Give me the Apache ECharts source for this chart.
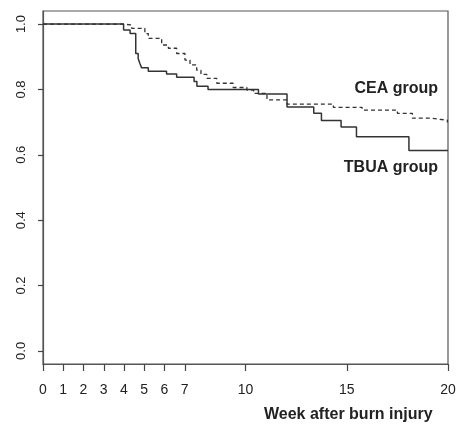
<!DOCTYPE html>
<html>
<head>
<meta charset="utf-8">
<script src="https://cdn.jsdelivr.net/npm/echarts@6/dist/echarts.min.js"></script>
<style>
  html, body { margin: 0; padding: 0; background: #fff; }
  #chart { width: 457px; height: 426px; }
</style>
</head>
<body>
<div id="chart"></div>
<script>
// Kaplan-Meier curves, [week, survival]
const tbuaGroup = [
  [0, 1], [3.98, 0.982], [4.3, 0.971], [4.58, 0.91], [4.7, 0.895], [4.78, 0.88],
  [4.87, 0.866], [5.2, 0.856], [6.1, 0.847], [6.6, 0.837], [7.46, 0.824], [7.6, 0.81],
  [8.15, 0.8], [10.64, 0.786], [12.05, 0.746], [13.37, 0.727], [13.75, 0.705],
  [14.72, 0.685], [15.48, 0.655], [18.07, 0.613], [20, 0.613]
];
const ceaGroup = [
  [0, 1], [3.96, 0.997], [4.38, 0.987], [5.03, 0.971], [5.2, 0.956], [5.86, 0.936],
  [6.19, 0.926], [6.6, 0.91], [7.01, 0.89], [7.26, 0.875], [7.59, 0.859], [7.8, 0.846],
  [8.09, 0.834], [8.58, 0.819], [9.39, 0.806], [10.07, 0.798], [10.4, 0.788],
  [11.06, 0.768], [12.05, 0.755], [14.34, 0.745], [15.76, 0.737], [17.5, 0.727],
  [18.24, 0.712], [19.14, 0.706], [19.97, 0.699], [20, 0.699]
];
const xTicks = [0, 1, 2, 3, 4, 5, 6, 7, 10, 15, 20];
const yTicks = [0, 0.2, 0.4, 0.6, 0.8, 1.0];
const xTitle = 'Week after burn injury';
const seriesNames = ['CEA group', 'TBUA group'];

const FONT = "'Liberation Sans', Arial, sans-serif";
const chart = echarts.init(document.getElementById('chart'));

chart.setOption({
  animation: false,
  textStyle: { fontFamily: FONT },
  grid: {
    left: 43, top: 11, right: 9, bottom: 62, outerBoundsMode: 'none',
    show: true, borderColor: '#555', borderWidth: 1.2, backgroundColor: 'transparent'
  },
  xAxis: {
    type: 'value', min: 0, max: 20,
    axisLine: { show: true, onZero: false, lineStyle: { color: '#555', width: 1.2 } },
    axisTick: { show: true, inside: false, customValues: xTicks, length: 7, lineStyle: { color: '#444', width: 1.2 } },
    axisLabel: { customValues: xTicks, color: '#222', fontSize: 14, margin: 19, fontFamily: FONT },
    splitLine: { show: false }
  },
  yAxis: {
    type: 'value', min: -0.04, max: 1.04,
    axisLine: { show: true, onZero: false, lineStyle: { color: '#555', width: 1.2 } },
    axisTick: { show: true, inside: false, customValues: yTicks, length: 5, lineStyle: { color: '#444', width: 1.2 } },
    axisLabel: {
      customValues: yTicks, color: '#222', fontSize: 13, margin: 15, rotate: 90,
      fontFamily: FONT, formatter: v => v.toFixed(1)
    },
    splitLine: { show: false }
  },
  series: [
    {
      name: seriesNames[0], type: 'line', step: 'end', data: ceaGroup,
      symbol: 'none', silent: true,
      lineStyle: { color: '#333', width: 1.3, type: [4, 3] }
    },
    {
      name: seriesNames[1], type: 'line', step: 'end', data: tbuaGroup,
      symbol: 'none', silent: true,
      lineStyle: { color: '#333', width: 1.5 }
    }
  ],
  graphic: [
    {
      type: 'text', left: 264, top: 407,
      style: { text: xTitle, font: "bold 16px " + FONT, fill: '#222' }
    },
    {
      type: 'text', right: 19, top: 81,
      style: { text: seriesNames[0], font: "bold 16px " + FONT, fill: '#222' }
    },
    {
      type: 'text', right: 19, top: 160,
      style: { text: seriesNames[1], font: "bold 16px " + FONT, fill: '#222' }
    }
  ]
});
</script>
</body>
</html>
